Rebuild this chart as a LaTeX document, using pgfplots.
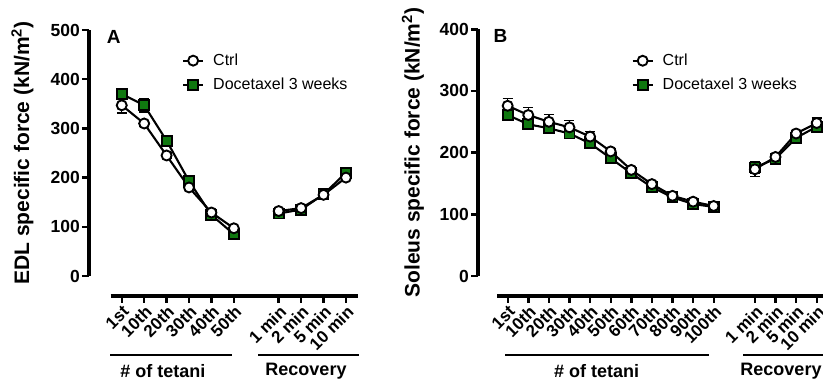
\documentclass[border=0pt]{standalone}
\usepackage{fontspec}
\setmainfont{Liberation Sans}
\usepackage{pgfplots}
\pgfplotsset{compat=1.18}
\definecolor{docgreen}{RGB}{16,120,16}
\pgfplotsset{
  dataaxis/.style={
    scale only axis, anchor=south west,
    axis y line*=left, axis x line=none, xtick=\empty,
    tick align=outside, major tick length=7pt,
    ytick style={line width=2.4pt, black},
    y axis line style={line width=3.2pt, black},
    yticklabel style={font=\fontsize{17.5}{19}\selectfont\bfseries, inner sep=2pt},
    /pgf/number format/assume math mode=true,
    ylabel style={font=\fontsize{21}{24}\selectfont\bfseries, anchor=center},
    clip=false,
    legend style={draw=none, fill=none, inner sep=0pt, font=\fontsize{16}{18}\selectfont, row sep=7pt, anchor=north west,
      /tikz/every odd column/.append style={column sep=7pt}},
    legend cell align=left, reverse legend,
    legend image code/.code={\draw[mark repeat=2,mark phase=2] plot coordinates {(0pt,0pt) (10pt,0pt) (20pt,0pt)};},
  },
  xaxisonly/.style={
    scale only axis, anchor=south west, height=1pt, ymin=0, ymax=1,
    axis x line*=bottom, axis y line=none, ytick=\empty,
    tick align=outside, major tick length=7pt,
    xtick style={line width=2.4pt, black},
    x axis line style={line width=3.2pt, black},
    xticklabel style={font=\fontsize{17}{18}\selectfont\bfseries, rotate=45, anchor=north east, inner sep=1pt},
  },
  ebars/.style={error bars/y dir=both, error bars/y explicit,
    error bars/error bar style={line width=1.4pt, black},
    error bars/error mark options={rotate=90, mark size=5pt, line width=1.4pt, black}},
  ctrl/.style={black, line width=2.1pt, mark=*, mark options={fill=white, line width=1.9pt, mark size=5pt, solid}, ebars},
  doc/.style={black, line width=2.1pt, mark=square*, mark options={fill=docgreen, line width=1.9pt, mark size=5pt, solid}, ebars},
}
\begin{document}
\begin{tikzpicture}
\useasboundingbox (0,0) rectangle (823pt,381pt);
\clip (0,0) rectangle (823pt,381pt);
% ---------------- Panel A ----------------
\begin{axis}[dataaxis, at={(89pt,105pt)}, width=269.3pt, height=246pt,
  xmin=-1.46, xmax=10.55, ymin=0, ymax=500, ytick={0,100,...,500},
  ylabel={EDL specific force (kN/m$^{\mathbf{2}}$)},
  ylabel style={at={(axis description cs:-0.247,0.5)}},
  legend style={at={(axis description cs:0.345,0.911)}}]
\addplot[doc] coordinates {(0,370)+-(0,9) (1,347)+-(0,14) (2,275)+-(0,11) (3,193)+-(0,5) (4,124)+-(0,4) (5,85)+-(0,4)};
\addlegendentry{Docetaxel 3 weeks}
\addplot[doc, forget plot] coordinates {(7,127)+-(0,4) (8,135)+-(0,4) (9,166)+-(0,4) (10,210)+-(0,6)};
\addplot[ctrl] coordinates {(0,347)+-(0,16) (1,310)+-(0,6) (2,245)+-(0,5) (3,180)+-(0,4) (4,129)+-(0,4) (5,97)+-(0,3)};
\addlegendentry{Ctrl}
\addplot[ctrl, forget plot] coordinates {(7,132)+-(0,4) (8,138)+-(0,4) (9,165)+-(0,4) (10,200)+-(0,4)};
\end{axis}
\begin{axis}[xaxisonly, at={(110.5pt,85pt)}, width=247.8pt, xmin=-0.5, xmax=10.55,
  xtick={0,1,2,3,4,5,7,8,9,10},
  xticklabels={1st,10th,20th,30th,40th,50th,1 min,2 min,5 min,10 min}]
\end{axis}
\node[font=\fontsize{19}{21}\selectfont\bfseries] at (113.7pt,344.5pt) {A};
\draw[line width=1.8pt] (110pt,26pt) -- (232pt,26pt);
\draw[line width=1.8pt] (258pt,26pt) -- (359pt,26pt);
\node[font=\fontsize{18}{20}\selectfont\bfseries] at (163pt,10pt) {\# of tetani};
\node[font=\fontsize{18}{20}\selectfont\bfseries] at (306pt,10pt) {Recovery};
% ---------------- Panel B ----------------
\begin{axis}[dataaxis, at={(478pt,105pt)}, width=359.3pt, height=246.7pt,
  xmin=-1.44, xmax=16, ymin=0, ymax=400, ytick={0,100,...,400},
  ylabel={Soleus specific force (kN/m$^{\mathbf{2}}$)},
  ylabel style={at={(axis description cs:-0.181,0.5)}},
  legend style={at={(axis description cs:0.427,0.908)}}]
\addplot[doc] coordinates {(0,261)+-(0,6) (1,246)+-(0,5) (2,239.5)+-(0,5) (3,231)+-(0,5) (4,215)+-(0,5) (5,191)+-(0,5) (6,166.5)+-(0,4) (7,144)+-(0,4) (8,127.6)+-(0,4) (9,116.7)+-(0,3) (10,112)+-(0,3)};
\addlegendentry{Docetaxel 3 weeks}
\addplot[doc, forget plot] coordinates {(12,176)+-(0,10) (13,190)+-(0,8) (14,224)+-(0,6) (15,242)+-(0,5)};
\addplot[ctrl] coordinates {(0,276)+-(0,12) (1,261)+-(0,12) (2,250)+-(0,12) (3,241)+-(0,11) (4,226)+-(0,8) (5,202)+-(0,5) (6,172)+-(0,4) (7,149)+-(0,4) (8,130)+-(0,3) (9,120.5)+-(0,3) (10,113.5)+-(0,3)};
\addlegendentry{Ctrl}
\addplot[ctrl, forget plot] coordinates {(12,173)+-(0,12) (13,193)+-(0,6) (14,231)+-(0,5) (15,248)+-(0,8)};
\end{axis}
\begin{axis}[xaxisonly, at={(497.4pt,85pt)}, width=339.9pt, xmin=-0.5, xmax=16,
  xtick={0,1,2,3,4,5,6,7,8,9,10,12,13,14,15},
  xticklabels={1st,10th,20th,30th,40th,50th,60th,70th,80th,90th,100th,1 min,2 min,5 min,10 min}]
\end{axis}
\node[font=\fontsize{19}{21}\selectfont\bfseries] at (500.5pt,345pt) {B};
\draw[line width=1.8pt] (505pt,26pt) -- (709.3pt,26pt);
\draw[line width=1.8pt] (743.3pt,26pt) -- (850pt,26pt);
\node[font=\fontsize{18}{20}\selectfont\bfseries] at (596.7pt,10pt) {\# of tetani};
\node[font=\fontsize{18}{20}\selectfont\bfseries] at (781pt,10pt) {Recovery};
\end{tikzpicture}
\end{document}
